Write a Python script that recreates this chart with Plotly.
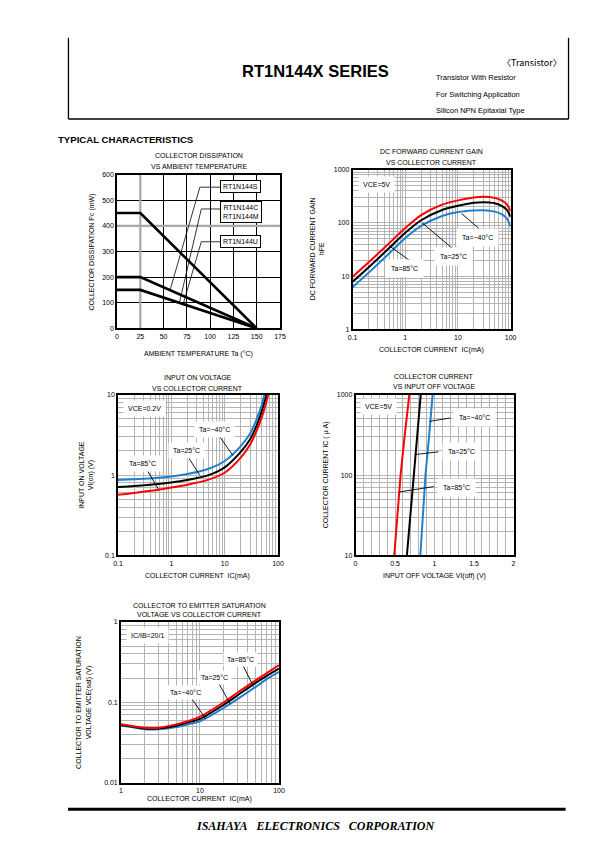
import math
import plotly.graph_objects as go

W, H = 595, 842
OFF = 8  # page body margin offset
def fx(x): return (x - OFF) / W
def fy(y): return 1 - (y - OFF) / H

# ---------------- DATA ----------------
# Chart 1: collector dissipation vs ambient temperature
ta_points = [0, 25, 150]
pc_S = [450, 450, 0]
pc_CM = [200, 200, 0]
pc_U = [150, 150, 0]

# Chart 2: hFE vs IC (VCE=5V)
ic_hfe = [0.1, 0.2, 0.5, 1, 2, 5, 10, 20, 30, 50, 70, 85, 100]
hfe_85 = [9.7, 18, 42, 80, 140, 220, 265, 300, 310, 295, 260, 222, 165]
hfe_25 = [7.8, 14.5, 34, 65, 112, 175, 210, 238, 245, 234, 205, 176, 130]
hfe_m40 = [6.2, 11.5, 27, 52, 88, 135, 160, 171, 173, 163, 143, 120, 85]

# Chart 3: VI(on) vs IC (VCE=0.2V)
ic_on = [0.1, 0.2, 0.5, 1, 2, 5, 10, 20, 30, 40, 50, 60, 70]
vion_m40 = [0.87, 0.89, 0.92, 0.96, 1.03, 1.2, 1.5, 2.3, 3.3, 5.0, 7.6, 12.5, 18]
vion_25 = [0.71, 0.73, 0.77, 0.81, 0.87, 1.0, 1.25, 1.95, 2.8, 4.2, 6.3, 9.6, 14]
vion_85 = [0.57, 0.6, 0.65, 0.7, 0.76, 0.88, 1.07, 1.65, 2.4, 3.6, 5.3, 8.0, 12]

# Chart 4: IC (uA) vs VI(off) (VCE=5V)
ic_off = [10, 30, 100, 300, 1000]
vioff_85 = [0.49, 0.53, 0.57, 0.62, 0.68]
vioff_25 = [0.65, 0.69, 0.735, 0.78, 0.825]
vioff_m40 = [0.82, 0.85, 0.885, 0.93, 0.975]

# Chart 5: VCE(sat) vs IC (IC/IB=20/1)
ic_sat = [1, 1.5, 2, 3, 5, 7, 10, 20, 30, 50, 70, 100]
vsat_85 = [0.053, 0.05, 0.048, 0.048, 0.053, 0.058, 0.066, 0.1, 0.132, 0.186, 0.23, 0.29]
vsat_25 = [0.052, 0.049, 0.047, 0.047, 0.051, 0.056, 0.062, 0.093, 0.122, 0.173, 0.213, 0.262]
vsat_m40 = [0.0515, 0.048, 0.046, 0.046, 0.049, 0.053, 0.058, 0.085, 0.11, 0.154, 0.194, 0.238]

# Tick labels
t1_x = [0, 25, 50, 75, 100, 125, 150, 175]
t1_y = [0, 100, 200, 300, 400, 500, 600]
t2_x = [0.1, 1, 10, 100]; t2_xt = ["0.1", "1", "10", "100"]
t2_y = [1, 10, 100, 1000]; t2_yt = ["1", "10", "100", "1000"]
t3_y = [0.1, 1, 10]; t3_yt = ["0.1", "1", "10"]
t4_x = [0, 0.5, 1, 1.5, 2]; t4_xt = ["0", "0.5", "1", "1.5", "2"]
t4_y = [10, 100, 1000]; t4_yt = ["10", "100", "1000"]
t5_x = [1, 10, 100]; t5_xt = ["1", "10", "100"]
t5_y = [0.01, 0.1, 1]; t5_yt = ["0.01", "0.1", "1"]

RED = "#ff0000"; BLK = "#000000"; BLU = "#1f80d2"
FONT = "Liberation Sans"
GRID = "#b4b4b4"

fig = go.Figure()

def line(x, y, ax, color, width=2.0, spline=True):
    fig.add_trace(go.Scatter(
        x=x, y=y, mode="lines", xaxis="x" + ax, yaxis="y" + ax,
        line=dict(color=color, width=width, shape="spline" if spline else "linear", smoothing=0.7),
        showlegend=False, hoverinfo="skip"))

# chart 1 highlight grid lines (grey)
line([25, 25], [0, 600], "", "#a8a8a8", 2.2, False)
line([0, 175], [400, 400], "", "#a8a8a8", 2.2, False)
line(ta_points, pc_S, "", BLK, 2.6, False)
line(ta_points, pc_CM, "", BLK, 2.6, False)
line(ta_points, pc_U, "", BLK, 2.6, False)
# chart 1 leaders
line([113, 89, 57], [551, 551, 150], "", BLK, 0.8, False)
line([113, 90.5, 67], [466, 466, 100], "", BLK, 0.8, False)
line([113, 90.5, 71], [338, 338, 94], "", BLK, 0.8, False)

# chart 2
line(ic_hfe, hfe_85, "2", RED)
line(ic_hfe, hfe_25, "2", BLK)
line(ic_hfe, hfe_m40, "2", BLU)
line([11.7, 25], [150, 79], "2", BLK, 0.9, False)
line([2.1, 8.2], [100, 32], "2", BLK, 0.9, False)
line([0.5, 1.27], [37, 19], "2", BLK, 0.9, False)

# chart 3
line(ic_on, vion_m40, "3", BLU)
line(ic_on, vion_25, "3", BLK)
line(ic_on, vion_85, "3", RED)
line([7.3, 14.3], [3.3, 1.75], "3", BLK, 0.9, False)
line([1.93, 3.4], [1.8, 1.0], "3", BLK, 0.9, False)
line([0.36, 0.58], [1.12, 0.66], "3", BLK, 0.9, False)

# chart 4
line(vioff_85, ic_off, "4", RED, 2.0, False)
line(vioff_25, ic_off, "4", BLK, 2.0, False)
line(vioff_m40, ic_off, "4", BLU, 2.0, False)
line([0.936, 1.2], [467, 514], "4", BLK, 0.9, False)
line([0.75, 1.05], [180, 195], "4", BLK, 0.9, False)
line([0.548, 0.99], [61.6, 72], "4", BLK, 0.9, False)

# chart 5
line(ic_sat, vsat_m40, "5", BLU)
line(ic_sat, vsat_25, "5", BLK)
line(ic_sat, vsat_85, "5", RED)
line([34, 47.6], [0.305, 0.157], "5", BLK, 0.9, False)
line([16.8, 24], [0.181, 0.096], "5", BLK, 0.9, False)
line([7.5, 11.8], [0.118, 0.0625], "5", BLK, 0.9, False)

def minor_log(e0, e1):
    return [m * 10 ** e for e in range(e0, e1) for m in range(2, 10)]

tickfont = dict(family=FONT, size=7, color="black")

def base_axis(domain, anchor):
    return dict(domain=domain, anchor=anchor, showline=True, mirror=True,
                linecolor="black", linewidth=1.6, ticks="", tickfont=tickfont,
                zeroline=False, showgrid=True, gridcolor=GRID, gridwidth=1.2, fixedrange=True)

def logax(domain, anchor, rng, tv, tt, e0, e1):
    d = base_axis(domain, anchor)
    d.update(type="log", range=rng, tickmode="array", tickvals=tv, ticktext=tt,
             minor=dict(tickmode="array", tickvals=minor_log(e0, e1), showgrid=True,
                        gridcolor=GRID, gridwidth=0.8, ticks=""))
    return d

layout = dict(width=W, height=H, margin=dict(l=0, r=0, t=0, b=0),
              paper_bgcolor="white", plot_bgcolor="white", showlegend=False)

# chart 1 axes
ax1x = base_axis([fx(114), fx(280)], "y")
ax1x.update(range=[0, 175], tickmode="array", tickvals=t1_x, gridcolor="#000000", gridwidth=0.6)
ax1y = base_axis([fy(327), fy(172)], "x")
ax1y.update(range=[0, 600], tickmode="array", tickvals=t1_y, gridcolor="#000000", gridwidth=0.6)
layout["xaxis"] = ax1x; layout["yaxis"] = ax1y

layout["xaxis2"] = logax([fx(354), fx(515)], "y2", [-1, 2], t2_x, t2_xt, -1, 2)
layout["yaxis2"] = logax([fy(328), fy(167)], "x2", [0, 3], t2_y, t2_yt, 0, 3)
layout["xaxis3"] = logax([fx(115), fx(278)], "y3", [-1, 2], t2_x, t2_xt, -1, 2)
layout["yaxis3"] = logax([fy(556), fy(394)], "x3", [-1, 1], t3_y, t3_yt, -1, 1)
ax4x = base_axis([fx(357), fx(518)], "y4")
ax4x.update(range=[0, 2], tickmode="array", tickvals=t4_x, ticktext=t4_xt,
            minor=dict(dtick=0.1, showgrid=True, gridcolor=GRID, gridwidth=0.8, ticks=""))
layout["xaxis4"] = ax4x
layout["yaxis4"] = logax([fy(556), fy(394)], "x4", [1, 3], t4_y, t4_yt, 1, 3)
layout["xaxis5"] = logax([fx(118), fx(279)], "y5", [0, 2], t5_x, t5_xt, 0, 2)
layout["yaxis5"] = logax([fy(785), fy(623)], "x5", [-2, 0], t5_y, t5_yt, -2, 0)

fig.update_layout(**layout)

ann = []
def ptext(text, x, y, size=7, xanchor="center", angle=0, family=FONT, color="black"):
    ann.append(dict(text=text, x=fx(x), y=fy(y), xref="paper", yref="paper",
                    xanchor=xanchor, yanchor="middle", showarrow=False, textangle=angle,
                    font=dict(family=family, size=size, color=color)))

def dtext(text, x, y, ax, xlog=True, ylog=True, size=7, border=False, pad=3):
    d = dict(text=text, x=math.log10(x) if xlog else x, y=math.log10(y) if ylog else y,
             xref="x" + ax, yref="y" + ax, showarrow=False,
             font=dict(family=FONT, size=size, color="black"),
             bgcolor="white", borderpad=pad, xanchor="center", yanchor="middle")
    if border:
        d.update(bordercolor="black", borderwidth=1)
    ann.append(d)

# header
ptext("<b>RT1N144X SERIES</b>", 316, 67, size=16.5)
ptext("〈Transistor〉", 569, 59, size=9, xanchor="right", family="Noto Sans CJK JP")
ptext("Transistor With Resistor", 437, 74, size=7.5, xanchor="left")
ptext("For Switching Application", 437, 91, size=7.5, xanchor="left")
ptext("Silicon NPN Epitaxial Type", 437, 107, size=7.5, xanchor="left")
ptext("<b>TYPICAL CHARACTERISTICS</b>", 52, 137, size=9.6, xanchor="left")
ptext("<b><i>ISAHAYA\u00a0\u00a0\u00a0ELECTRONICS\u00a0\u00a0\u00a0CORPORATION</i></b>", 317, 829,
      size=12, family="Liberation Serif")

# chart 1 texts
ptext("COLLECTOR DISSIPATION", 197, 153)
ptext("VS AMBIENT TEMPERATURE", 197, 164)
ptext("AMBIENT TEMPERATURE Ta (°C)", 197, 353)
ptext("COLLECTOR DISSIPATION Pc (mW)", 88, 250, angle=-90)
dtext("RT1N144S", 133, 552, "", xlog=False, ylog=False, border=True, pad=2)
dtext("RT1N144C<br>RT1N144M", 133, 453, "", xlog=False, ylog=False, border=True, pad=2)
dtext("RT1N144U", 133, 340, "", xlog=False, ylog=False, border=True, pad=2)

# chart 2 texts
ptext("DC FORWARD CURRENT GAIN", 434, 149)
ptext("VS COLLECTOR CURRENT", 434, 160)
ptext("COLLECTOR CURRENT  IC(mA)", 434, 349)
ptext("DC FORWARD CURRENT GAIN<br>hFE", 318, 247, angle=-90)
dtext("VCE=5V", 0.28, 525, "2", pad=4)
dtext("Ta=−40°C", 24, 54, "2", pad=5)
dtext("Ta=25°C", 8.2, 23, "2", pad=5)
dtext("Ta=85°C", 0.96, 14, "2", pad=5)

# chart 3 texts
ptext("INPUT ON VOLTAGE", 196, 377)
ptext("VS COLLECTOR CURRENT", 196, 388)
ptext("COLLECTOR CURRENT  IC(mA)", 196, 577)
ptext("INPUT ON VOLTAGE<br>VI(on) (V)", 82, 475, angle=-90)
dtext("VCE=0.2V", 0.31, 6.8, "3", pad=4)
dtext("Ta=−40°C", 6.4, 3.7, "3", pad=4)
dtext("Ta=25°C", 1.93, 2.05, "3", pad=4)
dtext("Ta=85°C", 0.29, 1.4, "3", pad=4)

# chart 4 texts
ptext("COLLECTOR CURRENT", 437, 376)
ptext("VS INPUT OFF VOLTAGE", 437, 386)
ptext("INPUT OFF VOLTAGE VI(off) (V)", 437, 577)
ptext("COLLECTOR CURRENT IC ( μ A)", 327, 475, angle=-90)
dtext("VCE=5V", 0.29, 724, "4", xlog=False, pad=4)
dtext("Ta=−40°C", 1.505, 519, "4", xlog=False, pad=5)
dtext("Ta=25°C", 1.34, 198, "4", xlog=False, pad=5)
dtext("Ta=85°C", 1.28, 71, "4", xlog=False, pad=5)

# chart 5 texts
ptext("COLLECTOR TO EMITTER SATURATION", 198, 606)
ptext("VOLTAGE VS COLLECTOR CURRENT", 198, 616)
ptext("COLLECTOR CURRENT  IC(mA)", 198, 802)
ptext("COLLECTOR TO EMITTER SATURATION<br>VOLTAGE VCE(sat) (V)", 80, 704, angle=-90)
dtext("IC/IB=20/1", 2.18, 0.684, "5", pad=4)
dtext("Ta=85°C", 32.6, 0.345, "5", pad=3)
dtext("Ta=25°C", 15.2, 0.203, "5", pad=3)
dtext("Ta=−40°C", 6.5, 0.134, "5", pad=3)

shapes = [
    dict(type="line", xref="paper", yref="paper", x0=fx(64.5), x1=fx(64.5), y0=fy(34), y1=fy(116),
         line=dict(color="black", width=1.3)),
    dict(type="line", xref="paper", yref="paper", x0=fx(574), x1=fx(574), y0=fy(34), y1=fy(116),
         line=dict(color="black", width=1.3)),
    dict(type="line", xref="paper", yref="paper", x0=fx(64.5), x1=fx(574), y0=fy(116), y1=fy(116),
         line=dict(color="black", width=1.5)),
    dict(type="line", xref="paper", yref="paper", x0=fx(64), x1=fx(571), y0=fy(812), y1=fy(812),
         line=dict(color="black", width=3)),
]

fig.update_layout(annotations=ann, shapes=shapes)
fig.write_html("out.html")
